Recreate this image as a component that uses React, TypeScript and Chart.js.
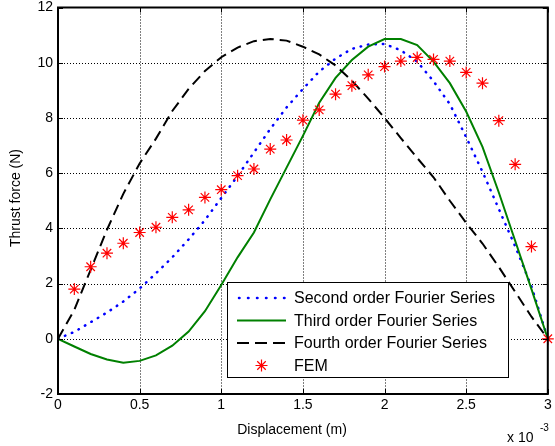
import React, { useEffect, useRef } from "react";
import { Chart, registerables } from "chart.js";

Chart.register(...registerables);

// ---------- data (x in units of 10^-3 m) ----------
const xValues = [
  0, 0.1, 0.2, 0.3, 0.4, 0.5, 0.6, 0.7, 0.8, 0.9, 1.0, 1.1, 1.2, 1.3, 1.4, 1.5,
  1.6, 1.7, 1.8, 1.9, 2.0, 2.1, 2.2, 2.3, 2.4, 2.5, 2.6, 2.7, 2.8, 2.9, 3.0,
];
const secondOrder = [
  0, 0.25, 0.6, 0.95, 1.35, 1.82, 2.37, 2.95, 3.6, 4.3, 5.1, 5.9, 6.75, 7.6,
  8.38, 9.05, 9.68, 10.15, 10.5, 10.66, 10.68, 10.45, 10.04, 9.33, 8.5, 7.3,
  6.05, 4.7, 3.35, 1.9, 0,
];
const thirdOrder = [
  0, -0.28, -0.55, -0.75, -0.87, -0.8, -0.6, -0.25, 0.26, 1.0, 1.95, 2.95, 3.85,
  5.05, 6.2, 7.35, 8.55, 9.45, 10.1, 10.58, 10.86, 10.86, 10.64, 10.04, 9.26,
  8.23, 6.95, 5.3, 3.55, 1.8, 0,
];
const fourthOrder = [
  0, 1.05, 2.5, 3.95, 5.25, 6.35, 7.25, 8.25, 9.05, 9.7, 10.2, 10.55, 10.78,
  10.86, 10.8, 10.58, 10.3, 9.9, 9.35, 8.7, 8.0, 7.27, 6.55, 5.85, 5.0, 4.2,
  3.45, 2.6, 1.7, 0.8, 0,
];
const femX = [
  0.1, 0.2, 0.3, 0.4, 0.5, 0.6, 0.7, 0.8, 0.9, 1.0, 1.1, 1.2, 1.3, 1.4, 1.5,
  1.6, 1.7, 1.8, 1.9, 2.0, 2.1, 2.2, 2.3, 2.4, 2.5, 2.6, 2.7, 2.8, 2.9, 3.0,
];
const femY = [
  1.8, 2.61, 3.1, 3.46, 3.85, 4.04, 4.4, 4.67, 5.12, 5.4, 5.91, 6.15, 6.87, 7.2,
  7.92, 8.29, 8.86, 9.17, 9.56, 9.86, 10.06, 10.19, 10.12, 10.06, 9.65, 9.26,
  7.9, 6.32, 3.34, 0,
];
const xTickValues = [0, 0.5, 1, 1.5, 2, 2.5, 3];
const xTickLabels = ["0", "0.5", "1", "1.5", "2", "2.5", "3"];
const yTickValues = [-2, 0, 2, 4, 6, 8, 10, 12];
const yTickLabels = ["-2", "0", "2", "4", "6", "8", "10", "12"];
const seriesLabels = [
  "Second order Fourier Series",
  "Third order Fourier Series",
  "Fourth order Fourier Series",
  "FEM",
];
const xAxisTitle = "Displacement (m)";
const yAxisTitle = "Thrust force (N)";
const xExponentBase = "x 10";
const xExponent = "-3";

const FONT = '"Liberation Sans", Arial, Helvetica, sans-serif';
const BLUE = "#0000ff";
const GREEN = "#008000";
const RED = "#ff0000";

const toPoints = (xs: number[], ys: number[]) =>
  xs.map((x, i) => ({ x, y: ys[i] }));

function drawStar(ctx: CanvasRenderingContext2D, cx: number, cy: number, r: number) {
  ctx.beginPath();
  ctx.moveTo(cx - r, cy);
  ctx.lineTo(cx + r, cy);
  ctx.moveTo(cx, cy - r);
  ctx.lineTo(cx, cy + r);
  const d = r * Math.SQRT1_2;
  ctx.moveTo(cx - d, cy - d);
  ctx.lineTo(cx + d, cy + d);
  ctx.moveTo(cx - d, cy + d);
  ctx.lineTo(cx + d, cy - d);
  ctx.stroke();
}

const framePlugin = {
  id: "matlabFrame",
  beforeDatasetsDraw(chart: any) {
    const { ctx, chartArea, scales } = chart;
    const { left, right, top, bottom } = chartArea;
    const xs = scales.x;
    const ys = scales.y;
    ctx.save();
    ctx.strokeStyle = "#000";
    ctx.lineWidth = 1;
    ctx.setLineDash([1, 2]);
    xTickValues.forEach((v) => {
      if (v <= xs.min || v >= xs.max) return;
      const px = Math.round(xs.getPixelForValue(v)) + 0.5;
      ctx.beginPath();
      ctx.moveTo(px, top);
      ctx.lineTo(px, bottom);
      ctx.stroke();
    });
    yTickValues.forEach((v) => {
      if (v <= ys.min || v >= ys.max) return;
      const py = Math.round(ys.getPixelForValue(v)) + 0.5;
      ctx.beginPath();
      ctx.moveTo(left, py);
      ctx.lineTo(right, py);
      ctx.stroke();
    });
    ctx.restore();
  },
  afterDatasetsDraw(chart: any) {
    const { ctx, chartArea, scales } = chart;
    const { left, right, top, bottom } = chartArea;
    const xs = scales.x;
    const ys = scales.y;
    ctx.save();
    ctx.setLineDash([]);
    ctx.strokeStyle = "#000";
    // inner ticks
    ctx.lineWidth = 1;
    const tl = 5;
    xTickValues.forEach((v) => {
      const px = Math.round(xs.getPixelForValue(v)) + 0.5;
      ctx.beginPath();
      ctx.moveTo(px, bottom);
      ctx.lineTo(px, bottom - tl);
      ctx.moveTo(px, top);
      ctx.lineTo(px, top + tl);
      ctx.stroke();
    });
    yTickValues.forEach((v) => {
      const py = Math.round(ys.getPixelForValue(v)) + 0.5;
      ctx.beginPath();
      ctx.moveTo(left, py);
      ctx.lineTo(left + tl, py);
      ctx.moveTo(right, py);
      ctx.lineTo(right - tl, py);
      ctx.stroke();
    });
    // box
    ctx.lineWidth = 2;
    ctx.strokeRect(left, top, right - left, bottom - top);

    // legend
    const lx = 227.5, ly = 282.5, lw = 281, lh = 95;
    ctx.fillStyle = "#fff";
    ctx.fillRect(lx, ly, lw, lh);
    ctx.lineWidth = 1;
    ctx.strokeStyle = "#000";
    ctx.strokeRect(lx, ly, lw, lh);
    const rows = [298, 320.5, 343, 365.5];
    const s0 = 237, s1 = 286;
    ctx.lineWidth = 2.5;
    ctx.strokeStyle = BLUE;
    ctx.lineCap = "round";
    ctx.setLineDash([0.5, 8.5]);
    ctx.beginPath();
    ctx.moveTo(s0 + 2, rows[0]);
    ctx.lineTo(s1, rows[0]);
    ctx.stroke();
    ctx.lineCap = "butt";
    ctx.setLineDash([]);
    ctx.lineWidth = 2;
    ctx.strokeStyle = GREEN;
    ctx.beginPath();
    ctx.moveTo(s0, rows[1]);
    ctx.lineTo(s1, rows[1]);
    ctx.stroke();
    ctx.strokeStyle = "#000";
    ctx.setLineDash([12, 6]);
    ctx.beginPath();
    ctx.moveTo(s0, rows[2]);
    ctx.lineTo(s1, rows[2]);
    ctx.stroke();
    ctx.setLineDash([]);
    ctx.strokeStyle = RED;
    ctx.lineWidth = 1.2;
    drawStar(ctx, (s0 + s1) / 2, rows[3], 6);
    ctx.fillStyle = "#000";
    ctx.font = `16px ${FONT}`;
    ctx.textAlign = "left";
    ctx.textBaseline = "middle";
    seriesLabels.forEach((t, i) => ctx.fillText(t, 294, rows[i] + 1));

    // axis titles
    ctx.font = `14px ${FONT}`;
    ctx.textAlign = "center";
    ctx.fillText(xAxisTitle, 292, 430);
    ctx.save();
    ctx.translate(16, 198);
    ctx.rotate(-Math.PI / 2);
    ctx.fillText(yAxisTitle, 0, 0);
    ctx.restore();
    // exponent
    ctx.textAlign = "left";
    ctx.font = `14px ${FONT}`;
    ctx.fillText(xExponentBase, 507, 438);
    ctx.font = `10px ${FONT}`;
    ctx.fillText(xExponent, 540, 428);
    ctx.restore();
  },
};

export default function App() {
  const canvasRef = useRef<HTMLCanvasElement | null>(null);

  useEffect(() => {
    document.body.style.margin = "0";
    const canvas = canvasRef.current;
    if (!canvas) return;
    const chart = new Chart(canvas, {
      type: "scatter",
      data: {
        datasets: [
          {
            label: seriesLabels[0],
            data: toPoints(xValues, secondOrder),
            showLine: true,
            borderColor: BLUE,
            backgroundColor: BLUE,
            borderWidth: 2.5,
            borderDash: [0.5, 7],
            borderCapStyle: "round",
            pointRadius: 0,
            tension: 0,
            order: 3,
          },
          {
            label: seriesLabels[1],
            data: toPoints(xValues, thirdOrder),
            showLine: true,
            borderColor: GREEN,
            backgroundColor: GREEN,
            borderWidth: 2,
            pointRadius: 0,
            tension: 0,
            order: 2,
          },
          {
            label: seriesLabels[2],
            data: toPoints(xValues, fourthOrder),
            showLine: true,
            borderColor: "#000",
            backgroundColor: "#000",
            borderWidth: 2,
            borderDash: [11, 6],
            pointRadius: 0,
            tension: 0,
            order: 1,
          },
          {
            label: seriesLabels[3],
            data: toPoints(femX, femY),
            showLine: false,
            pointStyle: "star",
            pointRadius: 6,
            borderColor: RED,
            backgroundColor: RED,
            borderWidth: 1.2,
            clip: false,
            order: 0,
          } as any,
        ],
      },
      options: {
        animation: false,
        responsive: false,
        events: [],
        layout: { padding: { top: 7.5, right: 7, left: 0, bottom: 0 } },
        plugins: {
          legend: { display: false },
          tooltip: { enabled: false },
        },
        scales: {
          x: {
            type: "linear",
            min: 0,
            max: 3,
            afterFit: (s: any) => {
              s.height = 52;
              s.paddingLeft = 0;
              s.paddingRight = 0;
            },
            afterBuildTicks: (s: any) => {
              s.ticks = xTickValues.map((v) => ({ value: v }));
            },
            ticks: {
              autoSkip: false,
              maxRotation: 0,
              padding: 4,
              color: "#000",
              font: { family: FONT, size: 14, lineHeight: 1 },
              callback: (v: any) => xTickLabels[xTickValues.indexOf(Number(v))] ?? "",
            },
            grid: { display: false, drawTicks: false },
            border: { display: false },
          },
          y: {
            type: "linear",
            min: -2,
            max: 12,
            afterFit: (s: any) => {
              s.width = 58;
              s.paddingTop = 0;
              s.paddingBottom = 0;
            },
            afterBuildTicks: (s: any) => {
              s.ticks = yTickValues.map((v) => ({ value: v }));
            },
            ticks: {
              autoSkip: false,
              padding: 5,
              color: "#000",
              font: { family: FONT, size: 14, lineHeight: 1 },
              callback: (v: any) => yTickLabels[yTickValues.indexOf(Number(v))] ?? "",
            },
            grid: { display: false, drawTicks: false },
            border: { display: false },
          },
        },
      },
      plugins: [framePlugin],
    } as any);
    return () => chart.destroy();
  }, []);

  return (
    <div style={{ position: "absolute", left: 0, top: 0, width: 555, height: 446, background: "#fff" }}>
      <canvas ref={canvasRef} width={555} height={446} style={{ display: "block" }} />
    </div>
  );
}
